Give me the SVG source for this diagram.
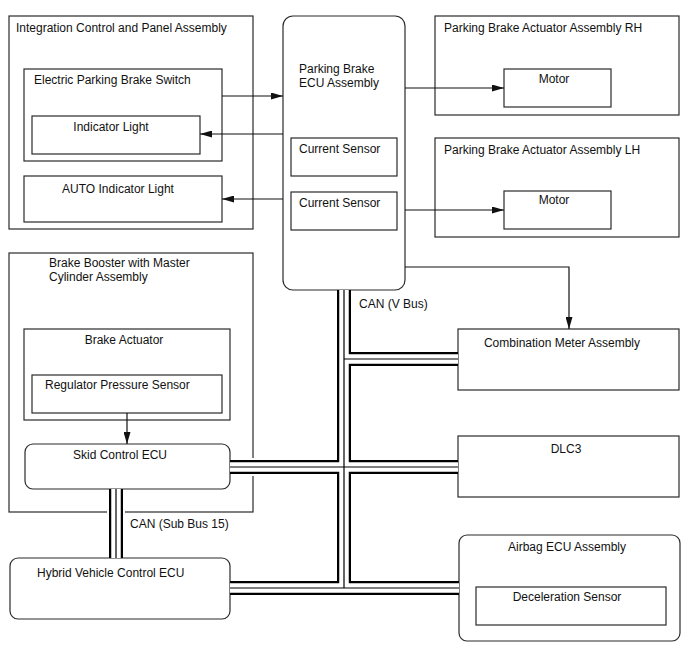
<svg xmlns="http://www.w3.org/2000/svg" width="688" height="658" viewBox="0 0 688 658">
<style>
.box{fill:#fff;stroke:#2a2a2a;stroke-width:1.2}
.cont{fill:none;stroke:#2a2a2a;stroke-width:1.2}
text{font-family:"Liberation Sans",Arial,sans-serif;font-size:12px;fill:#111}
.c{text-anchor:middle}
.arr{fill:none;stroke:#111;stroke-width:1.2;marker-end:url(#ah)}
.busbg{fill:none;stroke:#fff;stroke-width:18}
.busout{fill:none;stroke:#000;stroke-width:14}
.busin{fill:none;stroke:#fff;stroke-width:9.5}
.busmid{fill:none;stroke:#000;stroke-width:1.2}
</style>
<defs>
<marker id="ah" viewBox="0 0 12 7" refX="12" refY="3.5" markerWidth="12" markerHeight="7" orient="auto" markerUnits="userSpaceOnUse">
<path d="M0,0 L12,3.5 L0,7 z" fill="#111"/>
</marker>
</defs>
<rect width="688" height="658" fill="#fff"/>

<g id="integration-control-panel">
<rect class="cont" x="9" y="16" width="244" height="213"/>
<text x="16" y="32">Integration Control and Panel Assembly</text>
</g>
<g id="brake-booster">
<rect class="cont" x="9" y="253" width="244" height="259"/>
<text x="49" y="267">Brake Booster with Master</text>
<text x="49" y="281">Cylinder Assembly</text>
</g>

<g id="epb-switch">
<rect class="box" x="24" y="69" width="198" height="92"/>
<text x="34" y="84">Electric Parking Brake Switch</text>
</g>
<g id="indicator-light">
<rect class="box" x="32" y="116" width="168" height="38"/>
<text class="c" x="111" y="131">Indicator Light</text>
</g>
<g id="auto-indicator-light">
<rect class="box" x="24" y="176" width="198" height="46"/>
<text class="c" x="118" y="193">AUTO Indicator Light</text>
</g>

<g id="parking-brake-ecu">
<rect class="box" x="283" y="16" width="122" height="274" rx="10"/>
<text x="299" y="73">Parking Brake</text>
<text x="299" y="87">ECU Assembly</text>
</g>
<g id="current-sensor-1">
<rect class="box" x="291" y="138" width="106" height="38"/>
<text x="299" y="153">Current Sensor</text>
</g>
<g id="current-sensor-2">
<rect class="box" x="291" y="192" width="106" height="38"/>
<text x="299" y="207">Current Sensor</text>
</g>

<g id="actuator-rh">
<rect class="cont" x="435" y="16" width="244" height="99"/>
<text x="444" y="32">Parking Brake Actuator Assembly RH</text>
</g>
<g id="motor-rh">
<rect class="box" x="504" y="69" width="107" height="38"/>
<text class="c" x="554" y="83">Motor</text>
</g>
<g id="actuator-lh">
<rect class="cont" x="435" y="138" width="244" height="99"/>
<text x="444" y="154">Parking Brake Actuator Assembly LH</text>
</g>
<g id="motor-lh">
<rect class="box" x="504" y="191" width="107" height="38"/>
<text class="c" x="554" y="204">Motor</text>
</g>

<g id="combination-meter">
<rect class="box" x="458" y="329" width="221" height="61"/>
<text class="c" x="562" y="347">Combination Meter Assembly</text>
</g>
<g id="dlc3">
<rect class="box" x="458" y="436" width="221" height="61"/>
<text class="c" x="566" y="453">DLC3</text>
</g>

<g id="brake-actuator">
<rect class="box" x="24" y="329" width="206" height="91"/>
<text class="c" x="124" y="344">Brake Actuator</text>
</g>
<g id="regulator-pressure-sensor">
<rect class="box" x="32" y="375" width="190" height="38"/>
<text x="45" y="389">Regulator Pressure Sensor</text>
</g>
<g id="skid-control-ecu">
<rect class="box" x="25" y="444" width="205" height="45" rx="8"/>
<text class="c" x="120" y="459">Skid Control ECU</text>
</g>

<g id="hybrid-vehicle-ecu">
<rect class="box" x="10" y="558" width="220" height="61" rx="8"/>
<text x="37" y="577">Hybrid Vehicle Control ECU</text>
</g>
<g id="airbag-ecu">
<rect class="box" x="459" y="535" width="221" height="106" rx="8"/>
<text class="c" x="567" y="551">Airbag ECU Assembly</text>
</g>
<g id="deceleration-sensor">
<rect class="box" x="476" y="587" width="190" height="38"/>
<text class="c" x="567" y="601">Deceleration Sensor</text>
</g>

<g id="connectors">
<g id="can-bus">
<path class="busbg" d="M240,467 H266 M116,500 V524"/>
<path class="busout" d="M344,290 V588 M344,359 H458 M230,467 H458 M230,588 H459 M116,489 V558"/>
<path class="busin" d="M344,290 V588 M344,359 H458 M230,467 H458 M230,588 H459 M116,489 V558"/>
<path class="busmid" d="M344,290 V588 M344,359 H458 M230,467 H458 M230,588 H459 M116,489 V558"/>
</g>
<path class="arr" d="M222,96 H283"/>
<path class="arr" d="M283,134 H200"/>
<path class="arr" d="M283,199 H222"/>
<path class="arr" d="M405,88 H504"/>
<path class="arr" d="M405,210 H504"/>
<path class="arr" d="M405,267 H569 V329"/>
<path class="arr" d="M127,413 V444"/>
<text x="359" y="308">CAN (V Bus)</text>
<text x="130" y="528">CAN (Sub Bus 15)</text>
</g>
</svg>
